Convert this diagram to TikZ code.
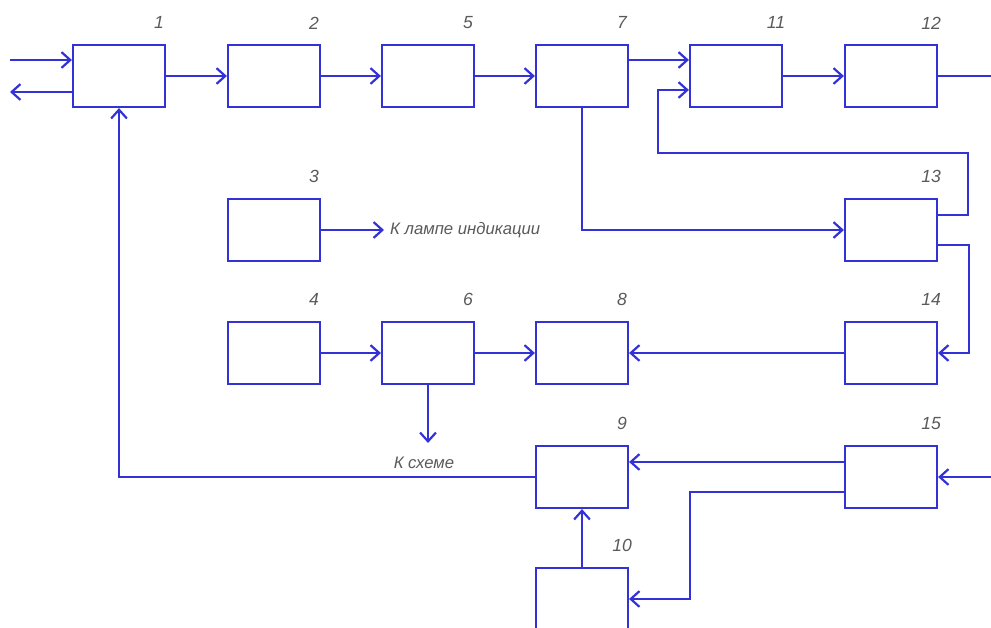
\documentclass[tikz,border=0pt]{standalone}
\usepackage{fontspec}
\setsansfont{Liberation Sans}
\usetikzlibrary{arrows.meta,calc,positioning}
\definecolor{wire}{RGB}{50,50,215}
\definecolor{lblgray}{RGB}{90,90,90}

\begin{document}
\begin{tikzpicture}[
  x=0.02cm, y=-0.02cm,
  >={Straight Barb[length=5pt, width=9pt]},
  conn/.style = {->, wire, line width=1.25pt},
  wireln/.style = {wire, line width=1.25pt},
  blk/.style  = {draw=wire, line width=1.25pt, minimum width=1.84cm,
                 minimum height=1.24cm, inner sep=0pt},
  num/.style  = {font=\sffamily\itshape\fontsize{10}{12}\selectfont, lblgray, inner sep=0pt},
  txt/.style  = {font=\sffamily\itshape\fontsize{9.5}{11}\selectfont, lblgray},
]
\clip (0,0) rectangle (991,628);

%% ------------------------------------------------------------------ BLOCKS
\foreach \n/\x/\y in {1/119/76, 2/274/76, 5/428/76, 7/582/76, 11/736/76, 12/891/76,
                      3/274/230, 13/891/230,
                      4/274/353, 6/428/353, 8/582/353, 14/891/353,
                      9/582/477, 15/891/477, 10/582/599}
  { \node[blk] (b\n) at (\x,\y) {};
    \node[num] (l\n) at ($(b\n.north east)+(-7,-21)$) {\n}; }

%% ------------------------------------------------------------------ TEXTS
\node[txt, anchor=west] (lamp) at (384,230) {К лампе индикации};
\node[txt] (sch) at (424,463) {К схеме};

% free ends
\coordinate (inL)  at (10,60);
\coordinate (outL) at (10,92);
\coordinate (outR) at (991,76);
\coordinate (inR)  at (991,477);
\coordinate (fbR)  at (968,153);
\coordinate (fbL)  at (658,153);
\coordinate (schT) at (428,443);
\coordinate (brk)  at (690,492);

%% ------------------------------------------------------------------ TOP ROW
\draw[conn] (inL) -- (b1.west |- inL);
\draw[conn] (b1.west |- outL) -- (outL);
\draw[conn] (b1) -- (b2);
\draw[conn] (b2) -- (b5);
\draw[conn] (b5) -- (b7);
\draw[conn] ($(b7.east)+(0,-16)$) -- ($(b11.west)+(0,-16)$);
\draw[conn] (b11) -- (b12);
\draw[wireln] (b12.east) -- (outR);

%% ------------------------------------------------------------------ FEEDBACKS
\draw[conn] (b7.south) |- (b13.west);
\draw[conn] ($(b13.east)+(0,-15)$) -| (fbR) -- (fbL) |- ($(b11.west)+(0,14)$);
\draw[conn] ($(b13.east)+(0,15)$) -| ($(b14.east)+(31,0)$) -- (b14.east);
\draw[conn] (b3) -- (lamp);

%% ------------------------------------------------------------------ MIDDLE ROW
\draw[conn] (b4) -- (b6);
\draw[conn] (b6) -- (b8);
\draw[conn] (b14) -- (b8);
\draw[conn] (b6.south) -- (schT);

%% ------------------------------------------------------------------ BOTTOM
\draw[conn] (b9.west) -| (b1.south);
\draw[conn] (inR) -- (b15.east);
\draw[conn] ($(b15.west)+(0,-15)$) -- ($(b9.east)+(0,-15)$);
\draw[conn] ($(b15.west)+(0,15)$) -- (brk) |- (b10.east);
\draw[conn] (b10) -- (b9);

\end{tikzpicture}
\end{document}
